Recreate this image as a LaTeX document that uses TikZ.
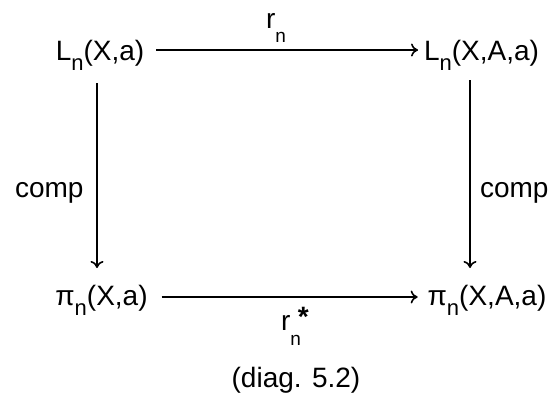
\documentclass[tikz,border=0pt]{standalone}
\usepackage{fontspec}
\setmainfont{Liberation Sans}
\usetikzlibrary{arrows.meta}
\newcommand\lowsub[3]{\raisebox{-#1}{\fontsize{#2}{#2}\selectfont #3}}
\begin{document}
\begin{tikzpicture}[x=1pt,y=-1pt,
  every node/.style={inner sep=0pt, outer sep=0pt, font=\fontsize{28}{28}\selectfont},
  obj/.style={text height=26pt, text depth=6pt, anchor=base},
  lbl/.style={anchor=base west},
  arr/.style={-{To[length=7pt,width=13pt]}, line width=1.6pt}]
\useasboundingbox (0,0) rectangle (553,400);
\node[obj] (LX) at (100,60) {L\lowsub{10pt}{22}{n}(X,a)};
\node[obj] (LXA) at (481.5,60) {L\lowsub{10pt}{22}{n}(X,A,a)};
\node[obj] (PX) at (101.5,305) {π\lowsub{10pt}{22}{n}(X,a)};
\node[obj] (PXA) at (487,305) {π\lowsub{10pt}{22}{n}(X,A,a)};
\node[lbl] (rn) at (266,28) {r\lowsub{14pt}{19}{n}};
\node[lbl] (rs) at (281,330) {r\lowsub{15pt}{19}{n}\kern-3pt\raisebox{4pt}{\bfseries *}};
\node[lbl] (c1) at (15,197) {comp};
\node[lbl] (c2) at (480,197) {comp};
\node[anchor=base] (cap) at (296,387) {(diag. 5.2)};
\draw[arr, shorten <=12pt, shorten >=6pt] (LX.east) -- (LXA.west);
\draw[arr, shorten <=14pt, shorten >=10pt] ([yshift=-2pt]PX.east) -- ([yshift=-2pt]PXA.west);
\draw[arr, shorten <=17pt, shorten >=11pt] ([xshift=-3pt]LX.south) -- ([xshift=-3pt]LX.south |- PX.north);
\draw[arr, shorten <=14pt, shorten >=11pt] ([xshift=-11.5pt]LXA.south) -- ([xshift=-11.5pt]LXA.south |- PXA.north);
\end{tikzpicture}
\end{document}
